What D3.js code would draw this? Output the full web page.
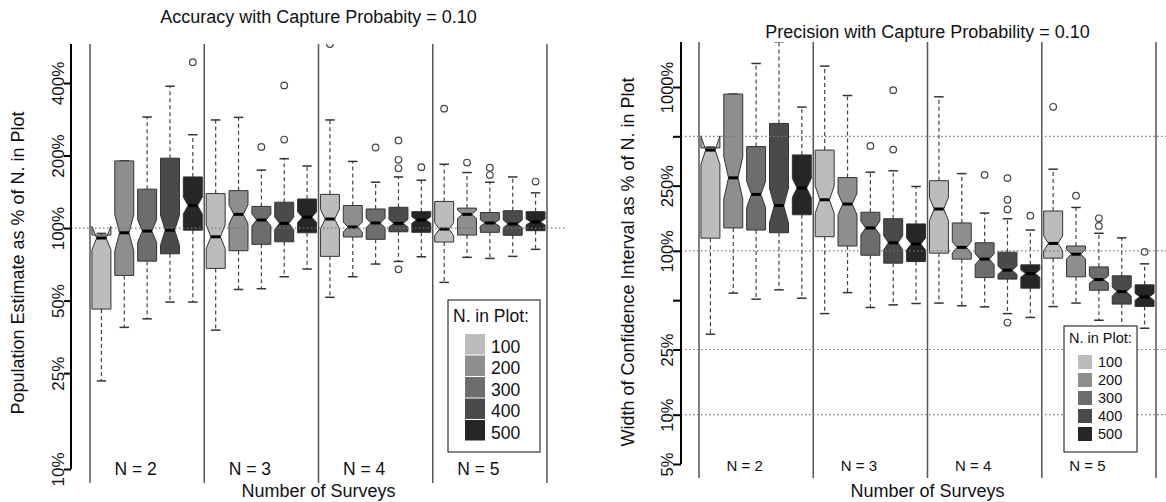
<!DOCTYPE html>
<html>
<head>
<meta charset="utf-8">
<script src="https://cdn.jsdelivr.net/npm/d3@7/dist/d3.min.js"></script>
<style>
body { margin: 0; background: #fff; }
text { font-family: "Liberation Sans", Arial, sans-serif; fill: #111; }
</style>
</head>
<body>
<script>
// groups and box series
var surveys = ["N = 2", "N = 3", "N = 4", "N = 5"];
var plotSizes = ["100", "200", "300", "400", "500"];
var simsPerBox = 100; // used for notch width (R: 1.58 * IQR / sqrt(n))

// accuracy: population estimate as % of N. in plot (boxes in order N=2..5, size 100..500)
var accLow  = [23.2, 38.7, 42.0, 49.3, 49.3, 37.7, 55.6, 56, 62.8, 67.6, 51.6, 62.8, 70.9, 72.7, 76, 59.5, 75.6, 74.8, 76.3, 81.6];
var accQ1   = [46.1, 63.6, 72.9, 78.2, 98, 68, 80.5, 85.6, 87.7, 95.6, 76.3, 91.8, 89.8, 96.5, 96, 87.5, 93.5, 96, 93.3, 97.5];
var accMed  = [90.9, 95.6, 97.2, 98, 124, 92, 114, 108, 104.6, 111, 109, 101, 105, 104.6, 108, 99, 114, 105, 104, 106];
var accQ3   = [93.5, 190, 145, 195, 163, 139, 143, 123, 128, 132, 138, 124, 120, 122, 117, 129, 121, 116, 118, 117];
var accHigh = [95, 190, 289, 388, 244, 281, 288, 174, 194, 181, 281, 189, 155, 163, 158, 184, 170, 155, 163, 140];
var accOut  = [[], [], [], [], [488], [], [], [217], [391, 233], [], [580], [], [216], [231, 192, 177, 67.4], [179], [313], [187], [178, 166], [], [156]];
var accTicks = [10, 25, 50, 100, 200, 400];

// precision: width of confidence interval as % of N. in plot
var precLow  = [31, 55.2, 50.7, 57.8, 51.4, 41.4, 55.6, 45.1, 46.8, 47.7, 48, 46.2, 45.5, 41.4, 39.2, 45.7, 48, 37.7, 34.4, 33.7];
var precQ1   = [119.5, 138, 134, 129, 166, 122, 107, 94, 84.1, 86, 96.8, 89, 68.7, 67.2, 59.2, 90.2, 69.4, 57.5, 47.3, 45.7];
var precMed  = [412, 279, 221, 189, 242, 205, 193, 138, 112, 110, 180, 105, 89, 76.2, 72.7, 111, 95.4, 66.8, 56.4, 52.4];
var precQ3   = [425, 905, 433, 599, 385, 412, 280, 172, 157, 146, 268, 148, 112, 98.2, 82.1, 175, 107, 79.8, 70.4, 62];
var precHigh = [430, 905, 1392, 1888, 754, 1341, 887, 302, 308, 247, 871, 296, 170, 157, 134, 315, 184, 128, 120, 83.3];
var precOut  = [[], [], [], [], [], [], [], [437], [957, 415], [], [], [], [291], [278, 205, 179, 36.5], [164], [757], [217], [158, 142], [], [98.6]];
var precTicks = [5, 10, 25, 50, 100, 250, 500, 1000];
var precTickLabels = ["5%", "10%", "25%", "", "100%", "250%", "", "1000%"];
var precRefLines = [10, 25, 100, 500];

var fills = ["#bcbcbc", "#8e8e8e", "#6d6d6d", "#4a4a4a", "#262626"];

var svg = d3.select("body").append("svg")
    .attr("width", 1166)
    .attr("height", 502);

function panel(cfg) {
    var g = svg.append("g");
    var y = d3.scaleLog().domain(cfg.yDomain).range(cfg.yRange);
    var x = d3.scaleBand().domain(d3.range(20)).range([cfg.x0, cfg.x1]);
    var hw = x.bandwidth() * 0.83 / 2;
    var k = 1.58 / Math.sqrt(simsPerBox);

    var clipId = "clip" + cfg.id;
    svg.append("clipPath").attr("id", clipId)
        .append("rect")
        .attr("x", cfg.axisX).attr("y", cfg.top)
        .attr("width", 1166 - cfg.axisX).attr("height", cfg.bottom - cfg.top);

    // group separators
    var seps = [0, 5, 10, 15].map(function (i) { return x(i); }).concat([cfg.x1]);
    g.selectAll(".sep").data(seps).enter().append("line")
        .attr("x1", function (d) { return d; })
        .attr("x2", function (d) { return d; })
        .attr("y1", cfg.top).attr("y2", cfg.bottom)
        .style("stroke", "#555").style("stroke-width", 1.5);

    var boxes = d3.range(20).map(function (i) {
        var lq = Math.log10(cfg.q1[i]), uq = Math.log10(cfg.q3[i]), m = Math.log10(cfg.med[i]);
        var nh = k * (uq - lq);
        return {
            i: i, cx: x(i) + x.bandwidth() / 2,
            low: cfg.low[i], q1: cfg.q1[i], med: cfg.med[i], q3: cfg.q3[i], high: cfg.high[i],
            nLo: Math.pow(10, m - nh), nHi: Math.pow(10, m + nh),
            out: cfg.out[i], fill: fills[i % 5]
        };
    });

    var bg = g.append("g").attr("clip-path", "url(#" + clipId + ")");
    var b = bg.selectAll(".box").data(boxes).enter().append("g");

    // whiskers
    b.append("line")
        .attr("x1", function (d) { return d.cx; }).attr("x2", function (d) { return d.cx; })
        .attr("y1", function (d) { return y(d.q3); }).attr("y2", function (d) { return y(d.high); })
        .style("stroke", "#444").style("stroke-width", 1.2).style("stroke-dasharray", "4,3");
    b.append("line")
        .attr("x1", function (d) { return d.cx; }).attr("x2", function (d) { return d.cx; })
        .attr("y1", function (d) { return y(d.q1); }).attr("y2", function (d) { return y(d.low); })
        .style("stroke", "#444").style("stroke-width", 1.2).style("stroke-dasharray", "4,3");
    ["high", "low"].forEach(function (key) {
        b.append("line")
            .attr("x1", function (d) { return d.cx - hw / 2; }).attr("x2", function (d) { return d.cx + hw / 2; })
            .attr("y1", function (d) { return y(d[key]); }).attr("y2", function (d) { return y(d[key]); })
            .style("stroke", "#333").style("stroke-width", 1.5);
    });

    // notched box (same polygon as R's bxp)
    b.append("polygon")
        .attr("points", function (d) {
            var xs = [-1, -1, -0.5, -1, -1, 1, 1, 0.5, 1, 1];
            var ys = [d.q1, d.nLo, d.med, d.nHi, d.q3, d.q3, d.nHi, d.med, d.nLo, d.q1];
            return xs.map(function (v, j) { return (d.cx + v * hw) + "," + y(ys[j]); }).join(" ");
        })
        .style("fill", function (d) { return d.fill; })
        .style("stroke", "#333").style("stroke-width", 1);
    b.append("line")
        .attr("x1", function (d) { return d.cx - hw / 2; }).attr("x2", function (d) { return d.cx + hw / 2; })
        .attr("y1", function (d) { return y(d.med); }).attr("y2", function (d) { return y(d.med); })
        .style("stroke", "#000").style("stroke-width", 3);

    b.selectAll("circle").data(function (d) { return d.out.map(function (v) { return { cx: d.cx, v: v }; }); })
        .enter().append("circle")
        .attr("cx", function (d) { return d.cx; })
        .attr("cy", function (d) { return y(d.v); })
        .attr("r", 3.3)
        .style("fill", "none").style("stroke", "#444").style("stroke-width", 1.2);

    // dotted reference lines
    g.selectAll(".ref").data(cfg.refLines).enter().append("line")
        .attr("x1", cfg.axisX).attr("x2", cfg.refEnd)
        .attr("y1", function (d) { return y(d); }).attr("y2", function (d) { return y(d); })
        .style("stroke", "#777").style("stroke-width", 1.2).style("stroke-dasharray", "1.5,2.5");

    // y axis
    var ax = g.append("g").attr("transform", "translate(" + cfg.axisX + ",0)")
        .call(d3.axisLeft(y).tickValues(cfg.ticks).tickSize(cfg.tickLen).tickSizeOuter(0)
            .tickFormat(function (d, j) { return cfg.tickLabels[j]; }));
    ax.select(".domain").attr("d", "M0," + cfg.top + "V" + y(cfg.ticks[0]))
        .style("stroke", "#000").style("stroke-width", 2);
    ax.selectAll(".tick line").style("stroke", "#000").style("stroke-width", 2);
    ax.selectAll(".tick text")
        .attr("transform", "rotate(-90)")
        .attr("x", 0).attr("y", -cfg.tickLen).attr("dy", 0)
        .attr("text-anchor", "middle")
        .style("font-size", cfg.tickFont + "px")
        .style("font-family", "'Liberation Sans', Arial, sans-serif")
        .style("fill", "#111");

    // group labels
    g.selectAll(".glab").data(surveys).enter().append("text")
        .attr("x", function (d, j) { return x(j * 5 + 1) + x.bandwidth(); })
        .attr("y", cfg.groupY)
        .attr("text-anchor", "middle")
        .style("font-size", cfg.groupFont + "px")
        .text(function (d) { return d; });

    // titles
    g.append("text").attr("x", (cfg.x0 + cfg.x1) / 2).attr("y", cfg.titleY)
        .attr("text-anchor", "middle").style("font-size", "18px").text(cfg.title);
    g.append("text").attr("x", (cfg.x0 + cfg.x1) / 2).attr("y", 497)
        .attr("text-anchor", "middle").style("font-size", "18px").text("Number of Surveys");
    g.append("text")
        .attr("transform", "translate(" + cfg.ylabX + "," + cfg.ylabY + ") rotate(-90)")
        .attr("text-anchor", "middle").style("font-size", "18px").text(cfg.ylab);

    // legend
    var L = cfg.legend;
    var lg = g.append("g");
    lg.append("rect").attr("x", L.x).attr("y", L.y).attr("width", L.w).attr("height", L.h)
        .style("fill", "#fff").style("stroke", "#333").style("stroke-width", 1.2);
    lg.append("text").attr("x", L.x + 5).attr("y", L.titleY)
        .style("font-size", L.font + "px").text("N. in Plot:");
    var rows = lg.selectAll(".row").data(plotSizes).enter().append("g")
        .attr("transform", function (d, j) { return "translate(" + L.swX + "," + (L.rowY + j * L.step) + ")"; });
    rows.append("rect").attr("width", L.sw).attr("height", L.sh)
        .style("fill", function (d, j) { return fills[j]; });
    rows.append("text").attr("x", L.sw + 6).attr("y", L.sh - 2)
        .style("font-size", L.font + "px").text(function (d) { return d; });
}

panel({
    id: "acc", x0: 90, x1: 547, top: 44, bottom: 483, axisX: 71,
    yDomain: [10, 400], yRange: [469, 83],
    low: accLow, q1: accQ1, med: accMed, q3: accQ3, high: accHigh, out: accOut,
    ticks: accTicks, tickLabels: accTicks.map(function (d) { return d + "%"; }),
    tickLen: 7, tickFont: 17, refLines: [100], refEnd: 566,
    groupY: 475, groupFont: 17.5,
    title: "Accuracy with Capture Probabity = 0.10", titleY: 23,
    ylab: "Population Estimate as % of N. in Plot", ylabX: 24, ylabY: 263,
    legend: { x: 448, y: 300, w: 92, h: 152, titleY: 322, font: 17.5,
              swX: 465, rowY: 334, step: 21.5, sw: 20, sh: 20.5 }
});

panel({
    id: "prec", x0: 699, x1: 1156, top: 42, bottom: 478, axisX: 681,
    yDomain: [5, 1000], yRange: [464, 87],
    low: precLow, q1: precQ1, med: precMed, q3: precQ3, high: precHigh, out: precOut,
    ticks: precTicks, tickLabels: precTickLabels,
    tickLen: 8, tickFont: 16.5, refLines: precRefLines, refEnd: 1166,
    groupY: 471, groupFont: 15,
    title: "Precision with Capture Probability = 0.10", titleY: 38,
    ylab: "Width of Confidence Interval as % of N. in Plot", ylabX: 634, ylabY: 262,
    legend: { x: 1064, y: 326, w: 73, h: 126, titleY: 343, font: 14.5,
              swX: 1078, rowY: 355, step: 18, sw: 14, sh: 14 }
});
</script>
</body>
</html>
